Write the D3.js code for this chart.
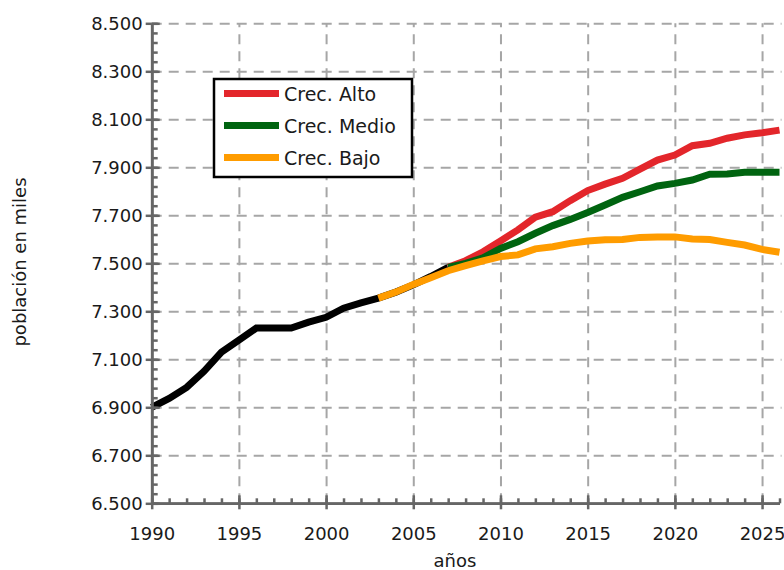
<!DOCTYPE html>
<html>
<head>
<meta charset="utf-8">
<script src="https://cdn.jsdelivr.net/npm/d3@7"></script>
<style>
  body { margin: 0; background: #fff; }
  svg { display: block; font-family: "DejaVu Sans", Verdana, sans-serif; }
  .grid line { stroke: #a6a6a6; stroke-width: 2; stroke-dasharray: 10 7; }
  .grid path { display: none; }
  .axis path, .axis line { stroke: #666; stroke-width: 2.5; }
  .axis text { fill: #1a1a1a; font-size: 18px; font-family: "DejaVu Sans", Verdana, sans-serif; }
</style>
</head>
<body>
<svg width="784" height="570"></svg>
<script>
var width = 784;
var height = 570;

// historic (black) series
var histYears = [1990, 1991, 1992, 1993, 1994, 1995, 1996, 1997, 1998, 1999, 2000, 2001, 2002, 2003, 2004, 2005, 2006, 2007];
var histValues = [6900, 6937, 6983, 7050, 7130, 7180, 7230, 7230, 7230, 7255, 7275, 7313, 7335, 7355, 7380, 7410, 7445, 7483];

// projections
var highYears = [2007, 2008, 2009, 2010, 2011, 2012, 2013, 2014, 2015, 2016, 2017, 2018, 2019, 2020, 2021, 2022, 2023, 2024, 2025, 2026];
var highValues = [7483, 7511, 7548, 7593, 7639, 7692, 7715, 7761, 7803, 7830, 7854, 7892, 7930, 7951, 7990, 8000, 8021, 8035, 8044, 8055];
var midYears = [2007, 2008, 2009, 2010, 2011, 2012, 2013, 2014, 2015, 2016, 2017, 2018, 2019, 2020, 2021, 2022, 2023, 2024, 2025, 2026];
var midValues = [7483, 7500, 7523, 7562, 7590, 7625, 7657, 7683, 7712, 7743, 7775, 7798, 7822, 7833, 7847, 7871, 7872, 7879, 7879, 7879];
var lowYears = [2003, 2004, 2005, 2006, 2007, 2008, 2009, 2010, 2011, 2012, 2013, 2014, 2015, 2016, 2017, 2018, 2019, 2020, 2021, 2022, 2023, 2024, 2025, 2026];
var lowValues = [7355, 7380, 7412, 7440, 7469, 7490, 7510, 7528, 7535, 7560, 7569, 7583, 7593, 7598, 7599, 7608, 7610, 7610, 7601, 7599, 7587, 7576, 7558, 7546];

var xTicks = [1990, 1995, 2000, 2005, 2010, 2015, 2020, 2025];
var yTicks = [6500, 6700, 6900, 7100, 7300, 7500, 7700, 7900, 8100, 8300, 8500];
var legendNames = ["Crec. Alto", "Crec. Medio", "Crec. Bajo"];
var colors = { alto: "#e3262b", medio: "#006410", bajo: "#ff9c00", hist: "#000000" };

// plot area edges (avoid the global "top")
var plotLeft = 151.7, plotRight = 779.5, plotTop = 23.3, plotBottom = 503.3;
var x = d3.scaleLinear().domain([1990, 2026]).range([plotLeft, plotRight]);
var y = d3.scaleLinear().domain([6500, 8500]).range([plotBottom, plotTop]);

var chart = d3.select("svg");

// grid lines
chart.append("g")
    .attr("class", "grid")
    .attr("transform", "translate(0," + plotBottom + ")")
    .call(d3.axisBottom(x).tickValues(xTicks.slice(1)).tickSize(-(plotBottom - plotTop)).tickFormat(""));
chart.append("g")
    .attr("class", "grid")
    .attr("transform", "translate(" + plotLeft + ",0)")
    .call(d3.axisLeft(y).tickValues(yTicks.slice(1)).tickSize(-(plotRight - plotLeft + 2)).tickFormat(""));

// series lines
function drawLine(years, values, color) {
    var pts = years.map(function (yr, i) { return [yr, values[i]]; });
    chart.append("path")
        .datum(pts)
        .attr("fill", "none")
        .attr("stroke", color)
        .attr("stroke-width", 7)
        .attr("d", d3.line().x(function (d) { return x(d[0]); }).y(function (d) { return y(d[1]); }));
}
drawLine(histYears, histValues, colors.hist);
drawLine(highYears, highValues, colors.alto);
drawLine(midYears, midValues, colors.medio);
drawLine(lowYears, lowValues, colors.bajo);

// y axis: minor ticks inside, major ticks crossing
var yMinor = d3.range(6500, 8501, 40);
chart.append("g")
    .attr("class", "axis")
    .attr("transform", "translate(" + plotLeft + ",0)")
    .call(d3.axisRight(y).tickValues(yMinor).tickSize(6).tickSizeOuter(0).tickFormat(""));
chart.append("g")
    .attr("class", "axis")
    .attr("transform", "translate(" + plotLeft + ",0)")
    .call(d3.axisRight(y).tickValues(yTicks).tickSize(8).tickSizeOuter(0).tickFormat(""));
chart.append("g")
    .attr("class", "axis")
    .attr("transform", "translate(" + plotLeft + ",0)")
    .call(d3.axisLeft(y).tickValues(yTicks).tickSize(6).tickSizeOuter(0).tickPadding(3)
        .tickFormat(function (d) { return d3.format(",")(d).replace(",", "."); }));

// x axis
var xMinor = d3.range(1990, 2027, 1);
chart.append("g")
    .attr("class", "axis")
    .attr("transform", "translate(0," + plotBottom + ")")
    .call(d3.axisTop(x).tickValues(xMinor).tickSize(5).tickSizeOuter(0).tickFormat(""));
chart.append("g")
    .attr("class", "axis")
    .attr("transform", "translate(0," + plotBottom + ")")
    .call(d3.axisTop(x).tickValues(xTicks).tickSize(8).tickSizeOuter(0).tickFormat(""));
var xAxis = chart.append("g")
    .attr("class", "axis")
    .attr("transform", "translate(0," + plotBottom + ")")
    .call(d3.axisBottom(x).tickValues(xTicks).tickSize(6).tickSizeOuter(0).tickFormat(d3.format("d")));
// labels sit lower than the tick ends
xAxis.selectAll(".tick text").attr("y", 24).attr("dy", "0.71em");

// axis titles
chart.append("text")
    .attr("x", 455)
    .attr("y", 567)
    .attr("text-anchor", "middle")
    .attr("font-size", "18px")
    .attr("fill", "#1a1a1a")
    .text("años");
chart.append("text")
    .attr("transform", "translate(26,262) rotate(-90)")
    .attr("text-anchor", "middle")
    .attr("font-size", "18px")
    .attr("fill", "#1a1a1a")
    .text("población en miles");

// legend
var legend = chart.append("g").attr("transform", "translate(214,79)");
legend.append("rect")
    .attr("width", 198)
    .attr("height", 98)
    .attr("fill", "#fff")
    .attr("stroke", "#000")
    .attr("stroke-width", 2.5);
var legendColors = [colors.alto, colors.medio, colors.bajo];
legendNames.forEach(function (name, i) {
    var cy = 14.5 + i * 32;
    legend.append("line")
        .attr("x1", 10).attr("x2", 65)
        .attr("y1", cy).attr("y2", cy)
        .attr("stroke", legendColors[i])
        .attr("stroke-width", 7);
    legend.append("text")
        .attr("x", 70)
        .attr("y", cy + 7)
        .attr("font-size", "19px")
        .attr("fill", "#1a1a1a")
        .text(name);
});
</script>
</body>
</html>
